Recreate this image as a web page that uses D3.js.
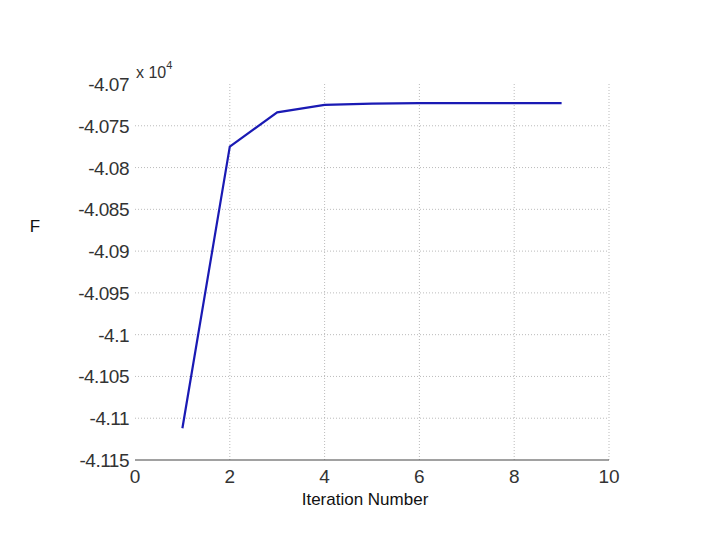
<!DOCTYPE html><html><head><script src="https://cdn.jsdelivr.net/npm/d3@7"></script>
<style>body{margin:0;background:#fff}</style></head><body><svg id="c" width="720" height="540"></svg>
<script>
const iterations=[1,2,3,4,5,6,7,8,9];
const fValues=[-4.1112,-4.0775,-4.0734,-4.0725,-4.07235,-4.0723,-4.0723,-4.0723,-4.0723];
const xTicks=[0,2,4,6,8,10];
const yTicks=[-4.07,-4.075,-4.08,-4.085,-4.09,-4.095,-4.1,-4.105,-4.11,-4.115];
const svg=d3.select("#c");
const x=d3.scaleLinear().domain([0,10]).range([135,609]);
const y=d3.scaleLinear().domain([-4.115,-4.07]).range([460,84]);
const font="Arial, 'Liberation Sans', sans-serif";
const g=svg.append("g");
g.selectAll(".gx").data(xTicks.slice(1)).join("line").attr("x1",d=>x(d)).attr("x2",d=>x(d)).attr("y1",84).attr("y2",460)
 .attr("stroke","#aaa").attr("stroke-width",0.8).attr("stroke-dasharray","1,2");
g.selectAll(".gy").data(yTicks.slice(1,-1)).join("line").attr("y1",d=>y(d)).attr("y2",d=>y(d)).attr("x1",135).attr("x2",609)
 .attr("stroke","#aaa").attr("stroke-width",0.8).attr("stroke-dasharray","1,2");
g.append("line").attr("x1",135).attr("x2",609).attr("y1",460).attr("y2",460).attr("stroke","#444").attr("stroke-width",1.2);
g.selectAll(".xt").data(xTicks).join("text").attr("x",d=>x(d)).attr("y",483).attr("text-anchor","middle")
 .attr("font-family",font).attr("font-size",19).attr("fill","#333").text(d=>d);
g.selectAll(".yt").data(yTicks).join("text").attr("x",129).attr("y",d=>y(d)+7).attr("text-anchor","end")
 .attr("font-family",font).attr("font-size",19).attr("letter-spacing",-0.5).attr("fill","#333").text(d=>d);
const t=g.append("text").attr("x",136).attr("y",78).attr("font-family",font).attr("font-size",16).attr("fill","#333");
t.append("tspan").text("x 10");
t.append("tspan").attr("dy",-9).attr("font-size",11).text("4");
g.append("text").attr("x",35).attr("y",232).attr("text-anchor","middle").attr("font-family",font).attr("font-size",17).attr("fill","#111").text("F");
g.append("text").attr("x",365).attr("y",505).attr("text-anchor","middle").attr("font-family",font).attr("font-size",17).attr("fill","#111").text("Iteration Number");
g.append("path").datum(iterations.map((d,i)=>[d,fValues[i]])).attr("fill","none").attr("stroke","#1a1ab4").attr("stroke-width",2.2)
 .attr("d",d3.line().x(d=>x(d[0])).y(d=>y(d[1])));
</script></body></html>
